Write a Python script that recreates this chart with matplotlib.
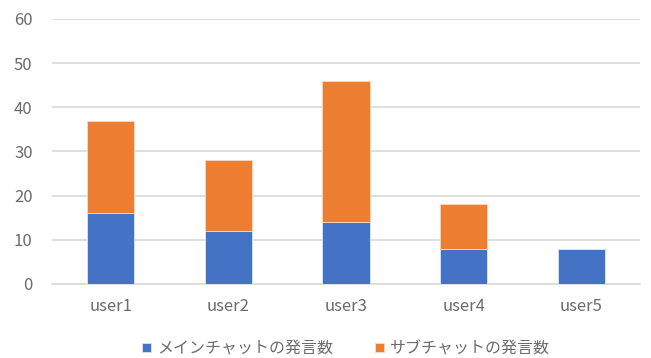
import matplotlib
matplotlib.use("Agg")
import matplotlib.pyplot as plt
import numpy as np

plt.rcParams['font.family'] = ['Noto Sans CJK JP', 'DejaVu Sans']

users = ["user1", "user2", "user3", "user4", "user5"]
main_counts = [16, 12, 14, 8, 8]
sub_counts = [21, 16, 32, 10, 0]
series_names = ["メインチャットの発言数", "サブチャットの発言数"]
yticks = [0, 10, 20, 30, 40, 50, 60]

fig = plt.figure(figsize=(6.51, 3.58), dpi=100)
ax = fig.add_axes([0.08, 0.207, 0.903, 0.74])

x = np.arange(len(users))
w = 0.4
ax.bar(x, main_counts, width=w, color="#4472C4", label=series_names[0],
       edgecolor="#dfe6f5", linewidth=0.6, zorder=3)
ax.bar(x, sub_counts, width=w, bottom=main_counts, color="#ED7D31", label=series_names[1],
       edgecolor="#f8d9c4", linewidth=0.6, zorder=3)

ax.set_xlim(-0.5, len(users) - 0.5)
ax.set_ylim(0, 60)
ax.set_yticks(yticks)
ax.set_xticks(x)
ax.set_xticklabels(users)
ax.yaxis.grid(True, color="#D9D9D9", linewidth=1.2, zorder=0)
ax.set_axisbelow(True)
for s in ["top", "right", "left"]:
    ax.spines[s].set_visible(False)
ax.spines["bottom"].set_color("#D9D9D9")
ax.spines["bottom"].set_linewidth(1.2)
ax.tick_params(axis="both", length=0, colors="#6b6b6b", labelsize=12)
ax.tick_params(axis="y", pad=14)
ax.tick_params(axis="x", pad=10)

leg = ax.legend(loc="center", bbox_to_anchor=(0.5, -0.245), ncol=2, frameon=False,
                fontsize=11.5, handlelength=0.55, handleheight=0.55, handletextpad=0.4,
                columnspacing=2.6, borderpad=0.2)
for t in leg.get_texts():
    t.set_color("#6b6b6b")

fig.savefig("out.png", dpi=100)
